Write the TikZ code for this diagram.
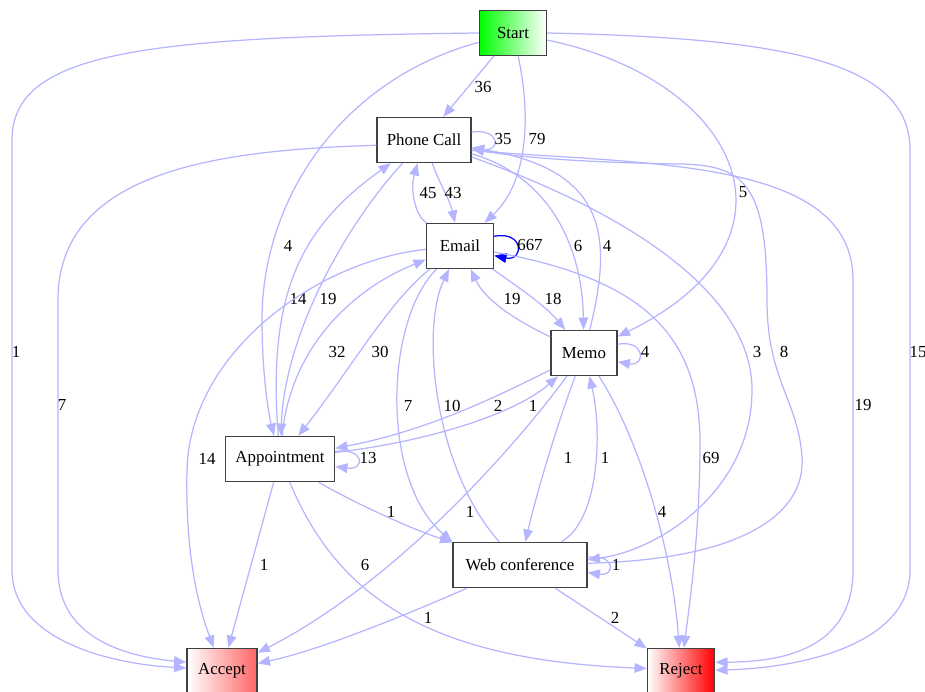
\documentclass[tikz,border=0pt]{standalone}
\usepackage{fontspec}
\setmainfont{Liberation Serif}
\usetikzlibrary{arrows.meta}
\definecolor{edgeblue}{RGB}{180,180,255}

\begin{document}
\begin{tikzpicture}[x=0.02cm, y=-0.02cm, >={Triangle[length=7pt, width=5.5pt]},
    box/.style={draw=black!75, line width=0.8pt, minimum height=0.9cm, inner sep=0pt, font=\fontsize{9.6}{11}\selectfont},
    lbl/.style={inner sep=0pt, text=black, font=\fontsize{9.6}{11}\selectfont},
    flow/.style={->, edgeblue, line width=0.7pt}]
    \useasboundingbox (0,0) rectangle (925,692);

    \node (start) [box, minimum width=1.34cm, left color=green, right color=white] at (513,33) {Start};
    \node (phone) [box, minimum width=1.88cm] at (424,140) {Phone Call};
    \node (email) [box, minimum width=1.34cm] at (460,246) {Email};
    \node (memo) [box, minimum width=1.32cm] at (584,353) {Memo};
    \node (appt) [box, minimum width=2.18cm] at (280,459) {Appointment};
    \node (web) [box, minimum width=2.68cm] at (520,565) {Web conference};
    \node (accept) [box, minimum width=1.4cm, left color=white, right color=red!60] at (222,671) {Accept};
    \node (reject) [box, minimum width=1.34cm, left color=white, right color=red] at (681,671) {Reject};

    \draw[flow] (start.west) .. controls (150,37) and (12,50) .. (12,140) -- (12,570)
        .. controls (12,640) and (110,664) .. ([yshift=1.7pt]accept.west) node[lbl] at (16,352) {1};
    \draw[flow] (start) -- (phone) node[lbl] at (483,87) {36};
    \draw[flow] (start) .. controls (530,110) and (530,180) .. (email) node[lbl] at (537,139) {79};
    \draw[flow] (start) .. controls (340,80) and (262,200) .. (262,320)
        .. controls (262,380) and (270,420) .. (appt) node[lbl] at (288,246) {4};
    \draw[flow] (start) .. controls (740,80) and (815,240) .. (memo) node[lbl] at (743,192) {5};
    \draw[flow] (start.east) .. controls (780,38) and (910,60) .. (910,150) -- (910,570)
        .. controls (910,645) and (800,668) .. ([yshift=0.5pt]reject.east) node[lbl] at (918,352) {15};

    \draw[flow] ([yshift=4.5pt]phone.east) .. controls +(29,-4) and +(29,4) .. ([yshift=-4.5pt]phone.east) node[lbl] at (503,139) {35};
    \draw[flow] (phone) .. controls (440,185) and (450,200) .. (email) node[lbl] at (453,193) {43};
    \draw[flow] (email) .. controls (415,215) and (410,190) .. (phone) node[lbl] at (428,193) {45};
    \draw[flow] ([yshift=-3pt]phone.west) .. controls (220,150) and (58,170) .. (58,300) -- (58,570)
        .. controls (58,635) and (120,656) .. ([yshift=5pt]accept.west) node[lbl] at (62,405) {7};
    \draw[flow] (phone) .. controls (545,175) and (582,240) .. (memo) node[lbl] at (578,246) {6};
    \draw[flow] (memo) .. controls (612,240) and (610,170) .. (phone) node[lbl] at (607,246) {4};
    \draw[flow] (appt) .. controls (268,300) and (296,230) .. (phone) node[lbl] at (298,299) {14};
    \draw[flow] (phone) .. controls (350,220) and (285,330) .. (appt) node[lbl] at (328,299) {19};
    \draw[flow] (phone) .. controls (620,210) and (752,290) .. (752,390)
        .. controls (752,490) and (660,550) .. ([yshift=3pt]web.east) node[lbl] at (757,352) {3};
    \draw[flow] ([yshift=1pt]web.east) .. controls (730,560) and (806,520) .. (802,457)
        .. controls (798,400) and (767,380) .. (767,300)
        .. controls (767,185) and (745,165) .. (680,164)
        .. controls (600,163) and (520,158) .. ([yshift=-5pt]phone.east) node[lbl] at (784,352) {8};
    \draw[flow] ([yshift=-6pt]phone.east) .. controls (650,165) and (853,158) .. (853,280) -- (853,570)
        .. controls (853,645) and (790,662) .. ([yshift=5pt]reject.east) node[lbl] at (863,405) {19};

    \draw[flow, blue] ([yshift=5.5pt]email.east) .. controls +(30,-6) and +(30,6) .. ([yshift=-5.5pt]email.east) node[lbl] at (530,245) {667};
    \draw[flow] (email) .. controls (320,260) and (190,350) .. (187,470)
        .. controls (185,560) and (200,610) .. (accept) node[lbl] at (207,459) {14};
    \draw[flow] (email) .. controls (390,300) and (350,370) .. (appt) node[lbl] at (380,352) {30};
    \draw[flow] (appt) .. controls (290,350) and (350,290) .. (email) node[lbl] at (337,352) {32};
    \draw[flow] (email) .. controls (385,320) and (380,480) .. (web.north west) node[lbl] at (408,406) {7};
    \draw[flow] (web) .. controls (435,470) and (420,330) .. (email) node[lbl] at (452,406) {10};
    \draw[flow] (email) .. controls (515,285) and (545,305) .. (memo) node[lbl] at (553,299) {18};
    \draw[flow] (memo) .. controls (515,320) and (485,300) .. (email) node[lbl] at (512,299) {19};
    \draw[flow] (email) .. controls (650,280) and (702,340) .. (700,450)
        .. controls (699,540) and (690,600) .. (reject) node[lbl] at (711,458) {69};

    \draw[flow] ([yshift=5pt]memo.east) .. controls +(28,-5) and +(28,5) .. ([yshift=-5pt]memo.east) node[lbl] at (645,352) {4};
    \draw[flow] (memo) .. controls (500,395) and (430,430) .. (appt) node[lbl] at (498,406) {2};
    \draw[flow] (appt) .. controls (440,440) and (520,410) .. (memo) node[lbl] at (533,406) {1};
    \draw[flow] (memo) .. controls (520,440) and (400,580) .. (accept) node[lbl] at (470,512) {1};
    \draw[flow] (memo) .. controls (555,430) and (535,500) .. (web) node[lbl] at (568,458) {1};
    \draw[flow] (web) .. controls (600,520) and (602,430) .. (memo) node[lbl] at (605,458) {1};
    \draw[flow] (memo) .. controls (640,440) and (672,550) .. (reject) node[lbl] at (662,512) {4};

    \draw[flow] ([yshift=4.3pt]appt.east) .. controls +(30,-4) and +(30,4) .. ([yshift=-4.3pt]appt.east) node[lbl] at (368,458) {13};
    \draw[flow] (appt) -- (accept) node[lbl] at (264,565) {1};
    \draw[flow] (appt) .. controls (340,495) and (400,525) .. (web) node[lbl] at (391,512) {1};
    \draw[flow] (appt) .. controls (335,590) and (420,660) .. ([yshift=1.5pt]reject.west) node[lbl] at (365,565) {6};

    \draw[flow] ([yshift=4.3pt]web.east) .. controls +(28,-4) and +(28,4) .. ([yshift=-4.3pt]web.east) node[lbl] at (616,565) {1};
    \draw[flow] (web) .. controls (440,600) and (330,648) .. (accept) node[lbl] at (428,618) {1};
    \draw[flow] (web) -- (reject) node[lbl] at (615,618) {2};
\end{tikzpicture}
\end{document}
